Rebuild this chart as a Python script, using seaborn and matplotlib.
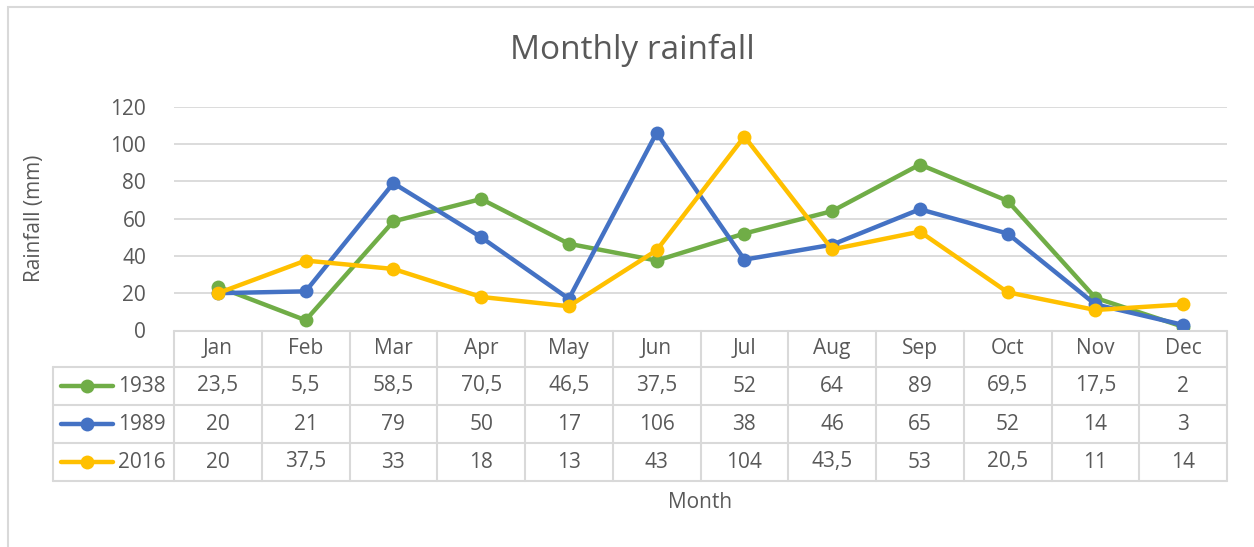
import matplotlib
matplotlib.use("Agg")
import matplotlib.pyplot as plt
from matplotlib.lines import Line2D
from matplotlib.patches import Rectangle
from matplotlib.transforms import blended_transform_factory
import seaborn as sns
import pandas as pd

months = ["Jan", "Feb", "Mar", "Apr", "May", "Jun", "Jul", "Aug", "Sep", "Oct", "Nov", "Dec"]
years = ["1938", "1989", "2016"]
rain_1938 = [23.5, 5.5, 58.5, 70.5, 46.5, 37.5, 52, 64, 89, 69.5, 17.5, 2]
rain_1989 = [20, 21, 79, 50, 17, 106, 38, 46, 65, 52, 14, 3]
rain_2016 = [20, 37.5, 33, 18, 13, 43, 104, 43.5, 53, 20.5, 11, 14]
series = {"1938": rain_1938, "1989": rain_1989, "2016": rain_2016}
colors = {"1938": "#70AD47", "1989": "#4472C4", "2016": "#FFC000"}

rows = []
for y in years:
    for i, m in enumerate(months):
        rows.append({"Year": y, "idx": i, "Month": m, "Rainfall": series[y][i]})
df = pd.DataFrame(rows)

sns.set_theme(style="white")
plt.rcParams["font.family"] = ["Open Sans", "DejaVu Sans"]
TXT = "#595959"
GRID = "#D9D9D9"
FS = 15

W, H = 1254, 547
fig = plt.figure(figsize=(W / 100, H / 100), dpi=100)

def fx(x):
    return x / W

def fy(y):
    return 1 - y / H

ax_l, ax_r, ax_t, ax_b = 174, 1227, 106.7, 330.5
ax = fig.add_axes([fx(ax_l), fy(ax_b), fx(ax_r - ax_l), (ax_b - ax_t) / H])

sns.lineplot(data=df, x="idx", y="Rainfall", hue="Year", palette=colors,
             marker="o", markersize=10, markeredgewidth=0, linewidth=3.2,
             ax=ax, legend=False, sort=False, zorder=3)

ax.set_xlim(-0.5, 11.5)
ax.set_ylim(0, 120)
ax.set_yticks(range(0, 121, 20))
ax.set_xticks([])
ax.grid(axis="y", color=GRID, linewidth=1.3)
ax.set_axisbelow(True)
for s in ax.spines.values():
    s.set_visible(False)
ax.tick_params(axis="y", length=0, pad=20, labelsize=FS, labelcolor=TXT)
ax.set_xlabel("")
ax.set_ylabel("Rainfall (mm)", fontsize=FS, color=TXT)
ax.yaxis.set_label_coords((45 - ax_l) / (ax_r - ax_l), 0.5)

fig.text(0.504, fy(50), "Monthly rainfall", ha="center", va="center",
         fontsize=24, color=TXT)

# outer chart border
fig.patches.append(Rectangle((fx(8), fy(600)), fx(1300), (600 - 7) / H,
                             transform=fig.transFigure, fill=False,
                             edgecolor=GRID, linewidth=1.5))

# data table
bt = blended_transform_factory(ax.transData, fig.transFigure)
row_y = [330.5, 367, 405, 443, 481]
lc = GRID
lw = 1.5
fig.add_artist(Line2D([fx(ax_l), fx(ax_r)], [fy(row_y[0])] * 2, color=lc, lw=lw))
for yy in row_y[1:]:
    fig.add_artist(Line2D([fx(53), fx(ax_r)], [fy(yy)] * 2, color=lc, lw=lw))
for k in range(13):
    ax.add_line(Line2D([k - 0.5, k - 0.5], [fy(row_y[0]), fy(row_y[-1])],
                       transform=bt, color=lc, lw=lw, clip_on=False))
fig.add_artist(Line2D([fx(53)] * 2, [fy(row_y[1]), fy(row_y[-1])], color=lc, lw=lw))

for i, m in enumerate(months):
    ax.text(i, fy((row_y[0] + row_y[1]) / 2), m, transform=bt, ha="center",
            va="center", fontsize=FS, color=TXT, clip_on=False)

def fmt(v):
    return (f"{v:g}").replace(".", ",")

for r, y in enumerate(years):
    yc = (row_y[r + 1] + row_y[r + 2]) / 2
    for i, v in enumerate(series[y]):
        ax.text(i, fy(yc), fmt(v), transform=bt, ha="center", va="center",
                fontsize=FS, color=TXT, clip_on=False)
    fig.add_artist(Line2D([fx(61), fx(113)], [fy(yc)] * 2, color=colors[y],
                          lw=3.2, solid_capstyle="round"))
    fig.add_artist(Line2D([fx(87)], [fy(yc)], color=colors[y], marker="o",
                          markersize=10, markeredgewidth=0))
    fig.text(fx(118), fy(yc), y, ha="left", va="center", fontsize=FS, color=TXT)

fig.text(fx(700), fy(502), "Month", ha="center", va="center", fontsize=FS, color=TXT)

fig.savefig("out.png", dpi=100)
